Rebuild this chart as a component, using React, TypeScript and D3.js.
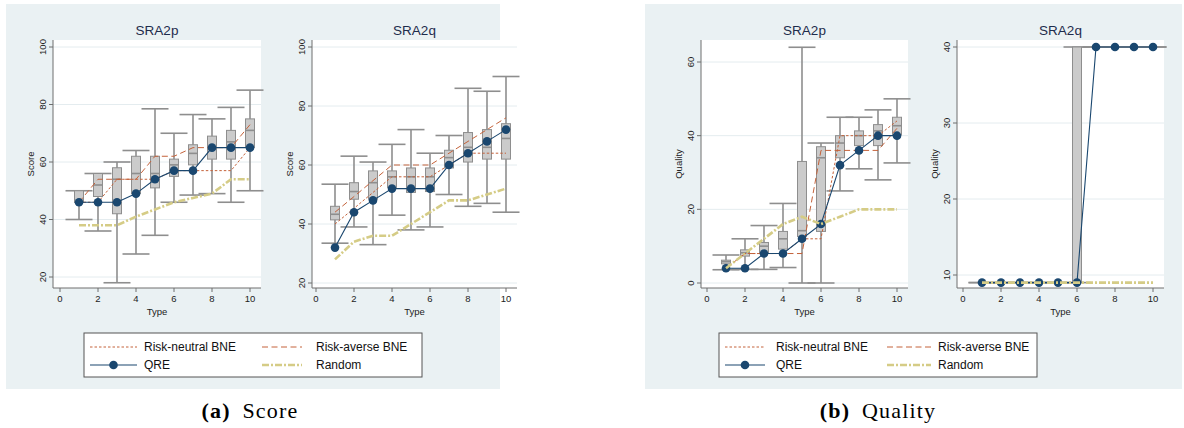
import React from "react";
import * as d3 from "d3";

const types = [1, 2, 3, 4, 5, 6, 7, 8, 9, 10];
const xTicks = [0, 2, 4, 6, 8, 10];

// box stats per type: [lower whisker, q1, median, q3, upper whisker]
const scoreSRA2pBoxes = [
  [40, 46, 46, 50, 50],
  [36, 48, 52, 56, 56],
  [18, 42, 54, 58, 60],
  [28, 49, 56, 62, 64],
  [34.5, 51, 56, 62, 78.5],
  [46, 55, 59, 61, 70],
  [48.5, 59, 63, 66, 76.5],
  [49, 61, 65, 69, 75],
  [46, 61, 67, 71, 79],
  [50, 65, 71, 75, 85],
];
const scoreSRA2pNeutral = [46, 46, 54, 54, 54, 57, 57, 57, 57, 65];
const scoreSRA2pAverse = [46, 54, 54, 54, 62, 62, 65, 65, 65, 73];
const scoreSRA2pQRE = [46, 46, 46, 49, 54, 57, 57, 65, 65, 65];
const scoreSRA2pRandom = [38, 38, 38, 41, 43.5, 46, 47.5, 49, 54, 54];

const scoreSRA2qBoxes = [
  [33.5, 41.4, 43.3, 46, 53.5],
  [39, 48.4, 51, 54, 63],
  [33, 48.4, 54, 58, 61],
  [43, 52.4, 56, 58, 67],
  [38, 50.7, 56, 59, 72],
  [39, 51, 56, 59, 64],
  [50, 59, 62.5, 65, 70],
  [46, 61, 66, 71, 86],
  [47, 62, 66, 72, 85],
  [44, 62, 69, 74, 90],
];
const scoreSRA2qNeutral = [40, 45.3, 50.7, 56, 56, 56, 60, 64, 64, 64];
const scoreSRA2qAverse = [44, 49.3, 54.7, 60, 60, 60, 64, 68, 72, 76];
const scoreSRA2qQRE = [32, 44, 48, 52, 52, 52, 60, 64, 68, 72];
const scoreSRA2qRandom = [28, 34, 36, 36, 40, 44, 48, 48, 50, 52];

const qualitySRA2pBoxes = [
  [3.6, 5.2, 5.8, 6.2, 7.6],
  [3.7, 7.3, 8.2, 9, 12],
  [3.7, 8.2, 10, 11, 15.6],
  [4.2, 9.2, 12, 14, 21.6],
  [0, 12.6, 14.2, 33, 64],
  [0, 14, 34, 37, 38],
  [25, 34, 38, 40, 45],
  [31, 37.3, 40, 41.3, 45],
  [28, 37.3, 41.3, 43, 47],
  [32.6, 40.2, 42.7, 45, 50],
];
const qualitySRA2pNeutral = [4, 8, 8, 8, 12, 12, 40, 40, 40, 44];
const qualitySRA2pAverse = [4, 8, 8, 8, 8, 36, 36, 36, 36, 42];
const qualitySRA2pQRE = [4, 4, 8, 8, 12, 16, 32, 36, 40, 40];
const qualitySRA2pRandom = [4, 8, 12, 16, 18, 16, 18, 20, 20, 20];

const qualitySRA2qBoxes = [
  [9, 9, 9, 9, 9],
  [9, 9, 9, 9, 9],
  [9, 9, 9, 9, 9],
  [9, 9, 9, 9, 9],
  [9, 9, 9, 9, 9],
  [9, 9, 9, 40, 40],
  [40, 40, 40, 40, 40],
  [40, 40, 40, 40, 40],
  [40, 40, 40, 40, 40],
  [40, 40, 40, 40, 40],
];
const qualitySRA2qQRE = [9, 9, 9, 9, 9, 9, 40, 40, 40, 40];
const qualitySRA2qRandom = [9, 9, 9, 9, 9, 9, 9, 9, 9, 9];

const legendLabels = ["Risk-neutral BNE", "Risk-averse BNE", "QRE", "Random"];

const BG = "#eaf1f3";
const GRID = "#e4ecef";
const AXIS = "#6e6e6e";
const BOXGRAY = "#8e8e8e";
const BOXFILL = "#cbcbcb";
const NAVY = "#1a476f";
const ORANGE = "#c4623a";
const KHAKI = "#d5cc86";
const TITLE = "#1e2c4c";
const FONT = "'Liberation Sans', Arial, Helvetica, sans-serif";
const SERIF = "'Liberation Serif', 'Times New Roman', serif";

const TOP = 40;
const BOTTOM = 288;

const panels = [
  {
    title: "SRA2p", yLabel: "Score", left: 53, right: 261, x0: 60,
    yTicks: [20, 40, 60, 80, 100], yPix: [277, 47],
    boxes: scoreSRA2pBoxes, neutral: scoreSRA2pNeutral, averse: scoreSRA2pAverse,
    qre: scoreSRA2pQRE, random: scoreSRA2pRandom,
  },
  {
    title: "SRA2q", yLabel: "Score", left: 312, right: 517, x0: 316,
    yTicks: [20, 40, 60, 80, 100], yPix: [283, 47],
    boxes: scoreSRA2qBoxes, neutral: scoreSRA2qNeutral, averse: scoreSRA2qAverse,
    qre: scoreSRA2qQRE, random: scoreSRA2qRandom,
  },
  {
    title: "SRA2p", yLabel: "Quality", left: 701, right: 908, x0: 707,
    yTicks: [0, 20, 40, 60], yPix: [283, 62],
    boxes: qualitySRA2pBoxes, neutral: qualitySRA2pNeutral, averse: qualitySRA2pAverse,
    qre: qualitySRA2pQRE, random: qualitySRA2pRandom,
  },
  {
    // BNE lines are not visible in this panel
    title: "SRA2q", yLabel: "Quality", left: 957, right: 1164, x0: 963,
    yTicks: [10, 20, 30, 40], yPix: [275, 47],
    boxes: qualitySRA2qBoxes, neutral: null, averse: null,
    qre: qualitySRA2qQRE, random: qualitySRA2qRandom,
  },
];

function Panel({ p }: { p: any }) {
  const x = d3.scaleLinear().domain([0, 10]).range([p.x0, p.x0 + 190]);
  const y = d3
    .scaleLinear()
    .domain([p.yTicks[0], p.yTicks[p.yTicks.length - 1]])
    .range(p.yPix);
  const line = d3
    .line<number>()
    .x((_, i) => x(types[i]))
    .y((d) => y(d));
  const mid = (p.left + p.right) / 2;
  const bw = 4.5;
  const cw = 13.5;

  return (
    <g>
      <rect x={p.left} y={TOP} width={p.right - p.left} height={BOTTOM - TOP} fill="#fff" />
      {p.yTicks.map((t: number) => (
        <line key={"g" + t} x1={p.left} x2={p.right} y1={y(t)} y2={y(t)} stroke={GRID} strokeWidth={1} />
      ))}

      {/* boxes */}
      {p.boxes.map((b: number[], i: number) => {
        const cx = x(types[i]);
        return (
          <g key={"b" + i}>
            <line x1={cx} x2={cx} y1={y(b[0])} y2={y(b[4])} stroke={BOXGRAY} strokeWidth={1.6} />
            <line x1={cx - cw} x2={cx + cw} y1={y(b[0])} y2={y(b[0])} stroke={BOXGRAY} strokeWidth={1.6} />
            <line x1={cx - cw} x2={cx + cw} y1={y(b[4])} y2={y(b[4])} stroke={BOXGRAY} strokeWidth={1.6} />
            <rect x={cx - bw} y={y(b[3])} width={bw * 2} height={Math.max(0, y(b[1]) - y(b[3]))}
              fill={BOXFILL} stroke={BOXGRAY} strokeWidth={1} />
            <line x1={cx - bw} x2={cx + bw} y1={y(b[2])} y2={y(b[2])} stroke={BOXGRAY} strokeWidth={1.6} />
          </g>
        );
      })}

      {p.neutral && (
        <path d={line(p.neutral) || ""} fill="none" stroke={ORANGE} strokeWidth={1} strokeDasharray="2.5 2" />
      )}
      {p.averse && (
        <path d={line(p.averse) || ""} fill="none" stroke={ORANGE} strokeWidth={1} strokeDasharray="6 3.5" />
      )}

      <path d={line(p.qre) || ""} fill="none" stroke={NAVY} strokeWidth={1.1} />
      {p.qre.map((v: number, i: number) => (
        <circle key={"q" + i} cx={x(types[i])} cy={y(v)} r={4.3} fill={NAVY} />
      ))}

      <path d={line(p.random) || ""} fill="none" stroke={KHAKI} strokeWidth={2.6} strokeDasharray="7 2 2 2" />

      {/* axes */}
      <line x1={p.left} x2={p.left} y1={TOP} y2={BOTTOM} stroke={AXIS} strokeWidth={1} />
      <line x1={p.left} x2={p.right} y1={BOTTOM} y2={BOTTOM} stroke={AXIS} strokeWidth={1} />
      {p.yTicks.map((t: number) => (
        <g key={"yt" + t}>
          <line x1={p.left - 4} x2={p.left} y1={y(t)} y2={y(t)} stroke={AXIS} />
          <text transform={`translate(${p.left - 7},${y(t)}) rotate(-90)`} textAnchor="middle"
            fontSize={9.5} fontFamily={FONT} fill="#222">{t}</text>
        </g>
      ))}
      {xTicks.map((t) => (
        <g key={"xt" + t}>
          <line x1={x(t)} x2={x(t)} y1={BOTTOM} y2={BOTTOM + 4} stroke={AXIS} />
          <text x={x(t)} y={302} textAnchor="middle" fontSize={9.5} fontFamily={FONT} fill="#222">{t}</text>
        </g>
      ))}
      <text x={mid} y={315} textAnchor="middle" fontSize={9.5} fontFamily={FONT} fill="#222">Type</text>
      <text transform={`translate(${p.left - 19},${(TOP + BOTTOM) / 2}) rotate(-90)`} textAnchor="middle"
        fontSize={9.5} fontFamily={FONT} fill="#222">{p.yLabel}</text>
      <text x={mid} y={35} textAnchor="middle" fontSize={13.5} fontFamily={FONT} fill={TITLE}>{p.title}</text>
    </g>
  );
}

function Legend({ x0, x1, s1, s2 }: { x0: number; x1: number; s1: number[]; s2: number[] }) {
  const r1 = 347;
  const r2 = 365;
  const txt = (tx: number, ty: number, s: string) => (
    <text x={tx} y={ty + 4.3} fontSize={12} fontFamily={FONT} fill="#111">{s}</text>
  );
  return (
    <g>
      <rect x={x0} y={333} width={x1 - x0} height={44} fill="#fff" stroke="#555" strokeWidth={1} />
      <line x1={s1[0]} x2={s1[1]} y1={r1} y2={r1} stroke={ORANGE} strokeWidth={1} strokeDasharray="2.5 2" />
      {txt(s1[2], r1, legendLabels[0])}
      <line x1={s2[0]} x2={s2[1]} y1={r1} y2={r1} stroke={ORANGE} strokeWidth={1} strokeDasharray="6 3.5" />
      {txt(s2[2], r1, legendLabels[1])}
      <line x1={s1[0]} x2={s1[1]} y1={r2} y2={r2} stroke={NAVY} strokeWidth={1.1} />
      <circle cx={(s1[0] + s1[1]) / 2} cy={r2} r={4.3} fill={NAVY} />
      {txt(s1[2], r2, legendLabels[2])}
      <line x1={s2[0]} x2={s2[1]} y1={r2} y2={r2} stroke={KHAKI} strokeWidth={2.6} strokeDasharray="7 2 2 2" />
      {txt(s2[2], r2, legendLabels[3])}
    </g>
  );
}

export default function App() {
  return (
    <svg width={1184} height={428} style={{ position: "absolute", left: 0, top: 0, background: "#fff" }}>
      <rect x={6} y={4} width={494} height={385} fill={BG} />
      <rect x={645} y={4} width={537} height={385} fill={BG} />
      {panels.map((p, i) => (
        <Panel key={i} p={p} />
      ))}
      <Legend x0={84} x1={422} s1={[90, 137, 144]} s2={[262, 302, 316]} />
      <Legend x0={719} x1={1037} s1={[725, 765, 776]} s2={[887, 931, 938]} />
      <text x={250} y={418} textAnchor="middle" fontSize={22} letterSpacing={1.2} wordSpacing={5}
        fontFamily={SERIF} fill="#000">
        <tspan fontWeight="bold">(a)</tspan> Score
      </text>
      <text x={878} y={418} textAnchor="middle" fontSize={22} letterSpacing={1.2} wordSpacing={5}
        fontFamily={SERIF} fill="#000">
        <tspan fontWeight="bold">(b)</tspan> Quality
      </text>
    </svg>
  );
}
